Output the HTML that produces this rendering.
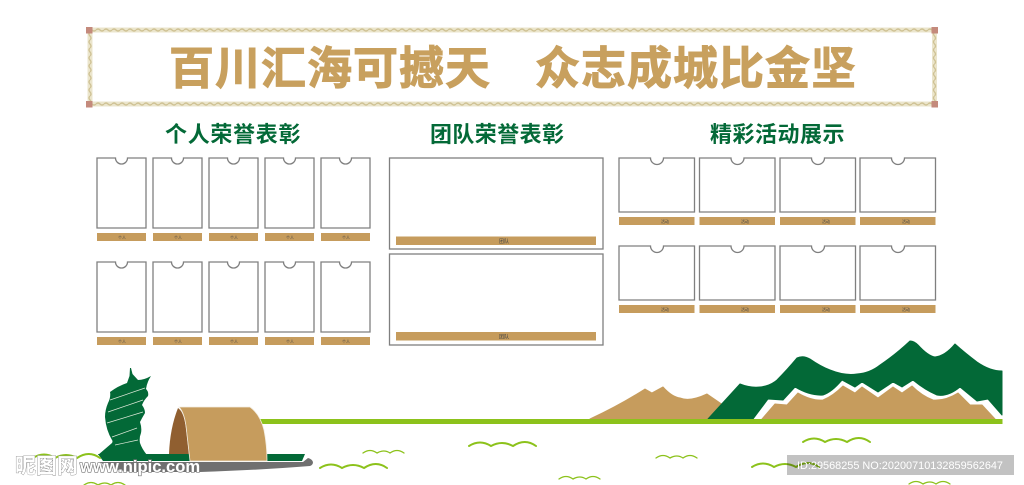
<!DOCTYPE html>
<html lang="zh">
<head>
<meta charset="utf-8">
<title>荣誉墙</title>
<style>
html,body{margin:0;padding:0;background:#fff;width:1024px;height:485px;overflow:hidden}
svg{display:block}
text{font-family:"Liberation Sans","Noto Sans CJK SC",sans-serif}
.t{font-size:45px;font-weight:700;fill:#c8a05e;stroke:#c8a05e;stroke-width:1}
.h{font-size:22px;font-weight:700;fill:#036937}
.l{fill:#c69c5d}
.s{font-size:4px;fill:#444;text-anchor:middle}
.c{fill:#fff;stroke:#7f7f7f;stroke-width:1.3}
.g{fill:none;stroke:#8cc21b;stroke-linecap:round}
</style>
</head>
<body>
<svg xmlns="http://www.w3.org/2000/svg" width="1024" height="485" viewBox="0 0 1024 485">
<defs>
<pattern id="rh" x="0" y="27.500" width="8" height="5" patternUnits="userSpaceOnUse">
<rect width="8" height="5" fill="#ebe5cc"/>
<path d="M0 2.500Q2 .5 4 2.500T8 2.500" fill="none" stroke="#cfc294" stroke-width="1.300"/>
</pattern>
<pattern id="rh2" x="0" y="101.500" width="8" height="5" patternUnits="userSpaceOnUse">
<rect width="8" height="5" fill="#ebe5cc"/>
<path d="M0 2.500Q2 .5 4 2.500T8 2.500" fill="none" stroke="#cfc294" stroke-width="1.300"/>
</pattern>
<pattern id="rv" x="87.500" y="0" width="5" height="8" patternUnits="userSpaceOnUse">
<rect width="5" height="8" fill="#ebe5cc"/>
<path d="M2.500 0Q.5 2 2.500 4T2.500 8" fill="none" stroke="#cfc294" stroke-width="1.300"/>
</pattern>
<pattern id="rv2" x="932" y="0" width="5" height="8" patternUnits="userSpaceOnUse">
<rect width="5" height="8" fill="#ebe5cc"/>
<path d="M2.500 0Q.5 2 2.500 4T2.500 8" fill="none" stroke="#cfc294" stroke-width="1.300"/>
</pattern>
<path id="p" class="c" d="M0 0H18.500a6 6 0 0 0 12 0H49V70H0Z"/>
<path id="a" class="c" d="M0 0H31.500a6.500 6.500 0 0 0 13 0H75.500V54H0Z"/>
<path id="g1" class="g" stroke-width="2" d="M0 5Q11-2 22 5Q33-1 44 5Q56-3 67 5"/>
<path id="g2" class="g" stroke-width="1.300" d="M0 4Q7-1 14 4Q21 0 27 4Q34-1 41 4"/>
</defs>

<!-- banner rope -->
<rect x="88" y="27.500" width="848" height="5" fill="url(#rh)"/>
<rect x="88" y="101.500" width="848" height="5" fill="url(#rh2)"/>
<rect x="87.500" y="30" width="5" height="75" fill="url(#rv)"/>
<rect x="932" y="30" width="5" height="75" fill="url(#rv2)"/>
<g fill="#c48a7c">
<rect x="86" y="27" width="6.500" height="6.500"/>
<rect x="931.500" y="27" width="6.500" height="6.500"/>
<rect x="86" y="101" width="6.500" height="6.500"/>
<rect x="931.500" y="101" width="6.500" height="6.500"/>
</g>

<!-- title -->
<text class="t" x="169" y="84" letter-spacing="1">百川汇海可撼天</text>
<text class="t" x="535" y="84" letter-spacing="1">众志成城比金坚</text>

<!-- headers -->
<text class="h" x="165" y="142" letter-spacing=".7">个人荣誉表彰</text>
<text class="h" x="430" y="142" letter-spacing=".4">团队荣誉表彰</text>
<text class="h" x="710" y="142" letter-spacing=".5">精彩活动展示</text>

<!-- personal cards -->
<use href="#p" x="97" y="158"/><use href="#p" x="153" y="158"/><use href="#p" x="209" y="158"/><use href="#p" x="265" y="158"/><use href="#p" x="321" y="158"/>
<use href="#p" x="97" y="262"/><use href="#p" x="153" y="262"/><use href="#p" x="209" y="262"/><use href="#p" x="265" y="262"/><use href="#p" x="321" y="262"/>
<g class="l">
<rect x="97" y="233" width="49" height="8"/><rect x="153" y="233" width="49" height="8"/><rect x="209" y="233" width="49" height="8"/><rect x="265" y="233" width="49" height="8"/><rect x="321" y="233" width="49" height="8"/>
<rect x="97" y="337" width="49" height="8"/><rect x="153" y="337" width="49" height="8"/><rect x="209" y="337" width="49" height="8"/><rect x="265" y="337" width="49" height="8"/><rect x="321" y="337" width="49" height="8"/>
</g>
<text class="s" x="122" y="239">个人</text><text class="s" x="178" y="239">个人</text><text class="s" x="234" y="239">个人</text><text class="s" x="290" y="239">个人</text><text class="s" x="346" y="239">个人</text>
<text class="s" x="122" y="343">个人</text><text class="s" x="178" y="343">个人</text><text class="s" x="234" y="343">个人</text><text class="s" x="290" y="343">个人</text><text class="s" x="346" y="343">个人</text>

<!-- team cards -->
<rect class="c" x="389.500" y="158" width="213.500" height="91"/>
<rect class="c" x="389.500" y="254" width="213.500" height="91"/>
<rect class="l" x="396" y="236.500" width="200" height="8.500"/>
<rect class="l" x="396" y="332" width="200" height="8.500"/>
<text class="s" x="504" y="243" style="font-size:5px">团队</text>
<text class="s" x="504" y="338.500" style="font-size:5px">团队</text>

<!-- activity cards -->
<use href="#a" x="619" y="158"/><use href="#a" x="699.500" y="158"/><use href="#a" x="780" y="158"/><use href="#a" x="860" y="158"/>
<use href="#a" x="619" y="246"/><use href="#a" x="699.500" y="246"/><use href="#a" x="780" y="246"/><use href="#a" x="860" y="246"/>
<g class="l">
<rect x="619" y="217" width="75.500" height="8"/><rect x="699.500" y="217" width="75.500" height="8"/><rect x="780" y="217" width="75.500" height="8"/><rect x="860" y="217" width="75.500" height="8"/>
<rect x="619" y="305" width="75.500" height="8"/><rect x="699.500" y="305" width="75.500" height="8"/><rect x="780" y="305" width="75.500" height="8"/><rect x="860" y="305" width="75.500" height="8"/>
</g>
<text class="s" x="665" y="223">活动</text><text class="s" x="745" y="223">活动</text><text class="s" x="826" y="223">活动</text><text class="s" x="906" y="223">活动</text>
<text class="s" x="665" y="311">活动</text><text class="s" x="745" y="311">活动</text><text class="s" x="826" y="311">活动</text><text class="s" x="906" y="311">活动</text>

<!-- mountains -->
<path fill="#c69c5d" stroke="#c69c5d" stroke-width="1" stroke-linejoin="round" d="M590 419Q620 405 645 389L652 393L663 387Q672 397 680 398Q690 402 707 394L723 405L708 419Z"/>
<path fill="#036937" stroke="#036937" stroke-width="1" stroke-linejoin="round" d="M708 419L740 384Q750 388 760 387Q770 386 777 380Q787 370 797 358Q803 355 810 359Q820 366 830 370Q845 376 857 374Q870 373 880 365Q895 355 910 341Q914 341 918 345Q928 356 935 357Q945 356 955 344Q965 353 977 362Q990 371 1002 371V415L988 399L977 401L960 387Q948 397 937 395Q925 390 913 380L902 387L893 382L878 392L862 382L855 387L842 380Q832 392 823 395Q810 396 795 387L783 400L768 399L753 419Z"/>
<path fill="#c69c5d" stroke="#c69c5d" stroke-width="1" stroke-linejoin="round" d="M762 419L775 404L787 405L798 393Q812 401 823 400Q833 396 843 386L855 393L862 387L878 398L893 387L902 393L912 386Q922 396 933 400Q945 401 958 393L970 405L982 405L995 419Z"/>
<rect x="260" y="419" width="742.500" height="5" fill="#8cc21b"/>

<!-- boat -->
<path fill="#036937" d="M131 368L132.500 374L138 380Q144 380 151 376Q147 382 146 389Q149 392 148 396Q144 400 142 405Q145 409 145 413Q142 418 140 422Q142 428 141 433Q139 438 140 443Q142 449 147 455H98L112 443Q113 441 112 440Q106 430 105 417Q105 410 108 403Q111 397 110 392Q118 386 127 383L129.500 376L130 368Z"/>
<g fill="none" stroke="#dfe9d9" stroke-width=".7">
<path d="M110 400L145 388"/><path d="M108 412L143 400"/><path d="M107 423L143 412"/><path d="M112 437L137 428"/><path d="M115 445L138 440"/>
</g>
<path fill="#707070" d="M100 462L303 462L308 458Q312 459 313 462Q313 465 310 466Q260 470 200 472L133 472Q110 470 100 462Z"/>
<path fill="#036937" d="M98 454H305L302 461H103Z"/>
<path fill="#905f30" d="M169 454Q170 428 178 408Q184 412 186 428L189 454Z"/>
<path fill="#c69c5d" stroke="#f3ede0" stroke-width=".8" d="M179 407H250Q260 414 264 430Q267 445 267 461H190L186 426Q184 412 179 407Z"/>

<!-- grass -->
<use href="#g1" x="469" y="441"/>
<use href="#g1" x="320" y="463"/>
<use href="#g1" x="803" y="437"/>
<use href="#g1" x="752" y="462"/>
<use href="#g1" x="33" y="453"/>
<use href="#g2" x="363" y="449"/>
<use href="#g2" x="559" y="475"/>
<use href="#g2" x="656" y="454"/>
<use href="#g2" x="909" y="480"/>
<use href="#g2" x="84" y="481"/>

<!-- watermarks -->
<text x="15" y="473" style="font-size:21px;font-weight:700;fill:#fff;stroke:#8a8a8a;stroke-width:.8;paint-order:stroke">昵图网</text>
<text x="80" y="472" style="font-size:16.600px;font-weight:700;fill:#fff;stroke:#777;stroke-width:1.300;paint-order:stroke">www.nipic.com</text>
<rect x="787" y="455" width="227" height="20" fill="#000" fill-opacity=".24"/>
<text x="797" y="469" textLength="206" lengthAdjust="spacingAndGlyphs" style="font-size:11px;fill:#fff">ID:29568255 NO:20200710132859562647</text>
</svg>
</body>
</html>
